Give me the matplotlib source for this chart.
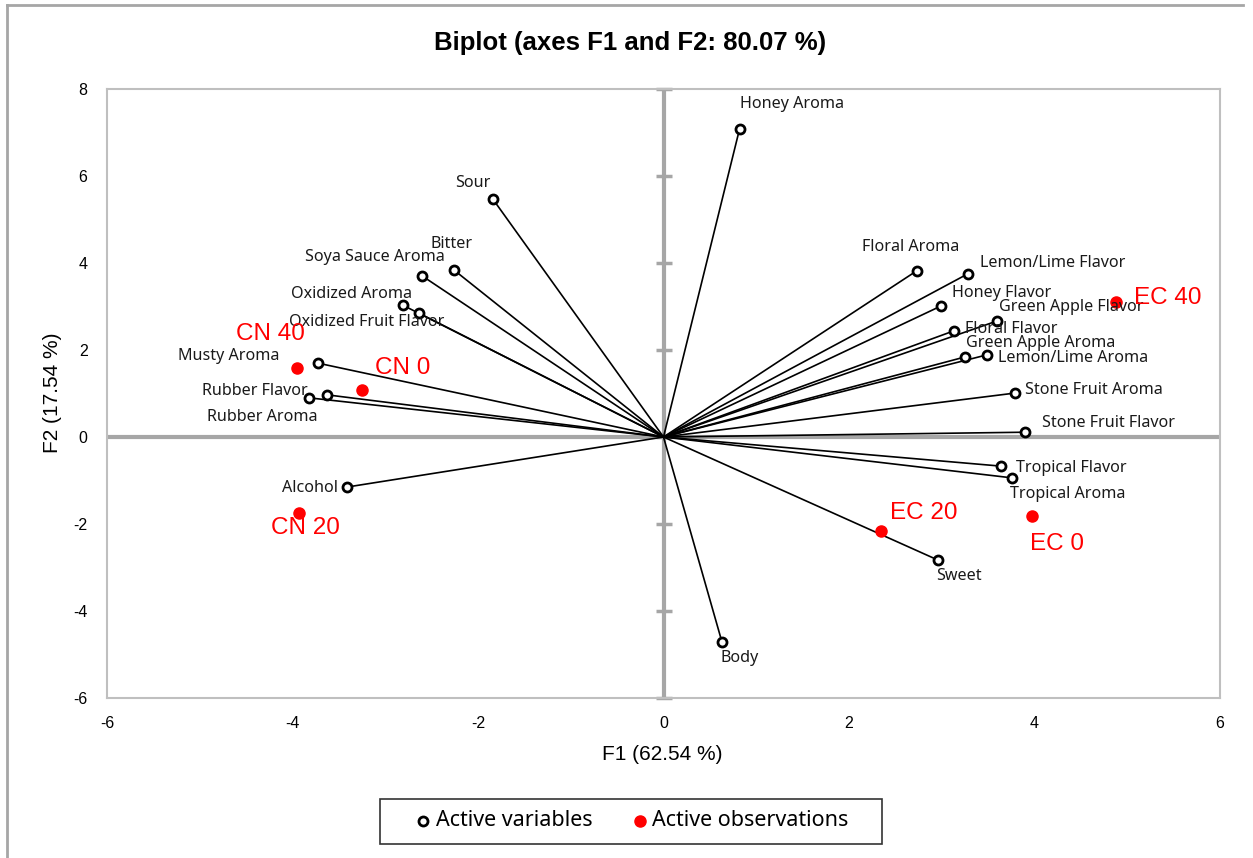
import matplotlib
matplotlib.use("Agg")
import matplotlib.pyplot as plt
from matplotlib.lines import Line2D
from matplotlib.patches import Rectangle

plt.rcParams["axes.unicode_minus"] = False

# ---------------- data ----------------
var_names = ["Honey Aroma", "Sour", "Bitter", "Soya Sauce Aroma", "Oxidized Aroma",
             "Oxidized Fruit Flavor", "Musty Aroma", "Rubber Flavor", "Rubber Aroma",
             "Alcohol", "Body", "Sweet", "Tropical Aroma", "Tropical Flavor",
             "Stone Fruit Flavor", "Stone Fruit Aroma", "Lemon/Lime Aroma",
             "Green Apple Aroma", "Floral Flavor", "Green Apple Flavor",
             "Honey Flavor", "Lemon/Lime Flavor", "Floral Aroma"]
var_f1 = [0.82, -1.84, -2.26, -2.60, -2.81, -2.64, -3.73, -3.63, -3.82, -3.41,
          0.63, 2.96, 3.76, 3.64, 3.90, 3.79, 3.49, 3.25, 3.13, 3.60, 2.99, 3.28, 2.73]
var_f2 = [7.08, 5.47, 3.84, 3.70, 3.03, 2.85, 1.70, 0.97, 0.90, -1.15,
          -4.71, -2.83, -0.94, -0.67, 0.11, 1.01, 1.89, 1.84, 2.44, 2.67, 3.01, 3.75, 3.82]

obs_names = ["CN 40", "CN 0", "CN 20", "EC 20", "EC 0", "EC 40"]
obs_f1 = [-3.95, -3.25, -3.93, 2.34, 3.97, 4.88]
obs_f2 = [1.59, 1.08, -1.75, -2.16, -1.82, 3.10]

x_ticks = [-6, -4, -2, 0, 2, 4, 6]
y_ticks = [-6, -4, -2, 0, 2, 4, 6, 8]

title = "Biplot (axes F1 and F2: 80.07 %)"
x_label = "F1 (62.54 %)"
y_label = "F2 (17.54 %)"
legend_labels = ["Active variables", "Active observations"]

# ---------------- label offsets (pixels: left edge of text, vertical center) ----------------
var_offsets = [(0, 25), (-38, 16), (-23, 26), (-117, 19), (-112, 11), (-130, -9),
               (-140, 7), (-125, 4), (-102, -19), (-65, -1), (-1, -16), (-2, -16),
               (-2, -16), (15, -2), (17, 9), (10, 3), (11, -3), (1, 14), (11, 2),
               (2, 14), (11, 13), (12, 11), (-55, 24)]
obs_offsets = [(-61, 34), (13, 22), (-28, -15), (9, 18), (-2, -28), (18, 4)]

W, H = 1253, 858
DPI = 100
fig = plt.figure(figsize=(W / DPI, H / DPI), dpi=DPI)

def fx(px):
    return px / W

def fy(py):
    return 1 - py / H

# axes frame in pixels: left 107, right 1220, top 89, bottom 698
L, R, T, B = 107, 1220, 89, 698
ax = fig.add_axes([fx(L), fy(B), (R - L) / W, (B - T) / H])

label_font = "Noto Sans"
tick_font = "Liberation Sans"

ax.set_xlim(-6, 6)
ax.set_ylim(-6, 8)
for s in ax.spines.values():
    s.set_color("#bfbfbf")
    s.set_linewidth(1.5)

ax.set_xticks(x_ticks)
ax.set_yticks(y_ticks)
ax.tick_params(length=0, labelsize=11.5, colors="black")
ax.tick_params(axis="x", pad=13)
ax.tick_params(axis="y", pad=14)
for lab in ax.get_xticklabels() + ax.get_yticklabels():
    lab.set_fontfamily(tick_font)

# central axes
gray = "#a6a6a6"
ax.axhline(0, color=gray, lw=3, zorder=1)
ax.axvline(0, color=gray, lw=3, zorder=1)
ax.plot([0] * len(y_ticks), y_ticks, ls="none", marker="_", ms=12, mew=2.5, color=gray, zorder=1, clip_on=False)

# vectors
for x, y in zip(var_f1, var_f2):
    ax.plot([0, x], [0, y], color="black", lw=1.2, zorder=2)
ax.plot(var_f1, var_f2, ls="none", marker="o", ms=6.5, mfc="white", mec="black", mew=2, zorder=3)
ax.plot(obs_f1, obs_f2, ls="none", marker="o", ms=8, mfc="#ff0000", mec="#ff0000", zorder=3)

for name, x, y, (dx, dy) in zip(var_names, var_f1, var_f2, var_offsets):
    ax.annotate(name, (x, y), xytext=(dx, dy), textcoords="offset pixels",
                ha="left", va="center", fontsize=11.6, family=label_font, color="#1a1a1a", zorder=4)
for name, x, y, (dx, dy) in zip(obs_names, obs_f1, obs_f2, obs_offsets):
    ax.annotate(name, (x, y), xytext=(dx, dy), textcoords="offset pixels",
                ha="left", va="center", fontsize=17.5, family="Liberation Sans", color="#ff0000", zorder=4)

# titles / labels
fig.text(fx(630), fy(43), title, ha="center", va="center", fontsize=18.5,
         fontweight="bold", family="Liberation Sans")
fig.text(fx(662), fy(755), x_label, ha="center", va="center", fontsize=15, family="Liberation Sans")
fig.text(fx(52), fy(393), y_label, ha="center", va="center", rotation=90, fontsize=15,
         family="Liberation Sans")

# legend (drawn manually to match the box geometry)
fig.add_artist(Rectangle((fx(380), fy(844)), (882 - 380) / W, (844 - 799) / H,
                         transform=fig.transFigure, fill=False, edgecolor="#333333", lw=1.2))
fig.add_artist(Line2D([fx(423)], [fy(821)], ls="none", marker="o", ms=6.5, mfc="white",
                      mec="black", mew=2, transform=fig.transFigure))
fig.add_artist(Line2D([fx(640)], [fy(821)], ls="none", marker="o", ms=8, mfc="#ff0000",
                      mec="#ff0000", transform=fig.transFigure))
fig.text(fx(436), fy(821), legend_labels[0], ha="left", va="center", fontsize=15.5, family=label_font)
fig.text(fx(652), fy(821), legend_labels[1], ha="left", va="center", fontsize=15.5, family=label_font)

# outer chart border (partial, like the screenshot)
fig.add_artist(Line2D([fx(7), fx(7)], [0, fy(5)], color="#a6a6a6", lw=2, transform=fig.transFigure))
fig.add_artist(Line2D([fx(7), fx(1243)], [fy(5), fy(5)], color="#a6a6a6", lw=2, transform=fig.transFigure))

fig.savefig("out.png", dpi=DPI)
